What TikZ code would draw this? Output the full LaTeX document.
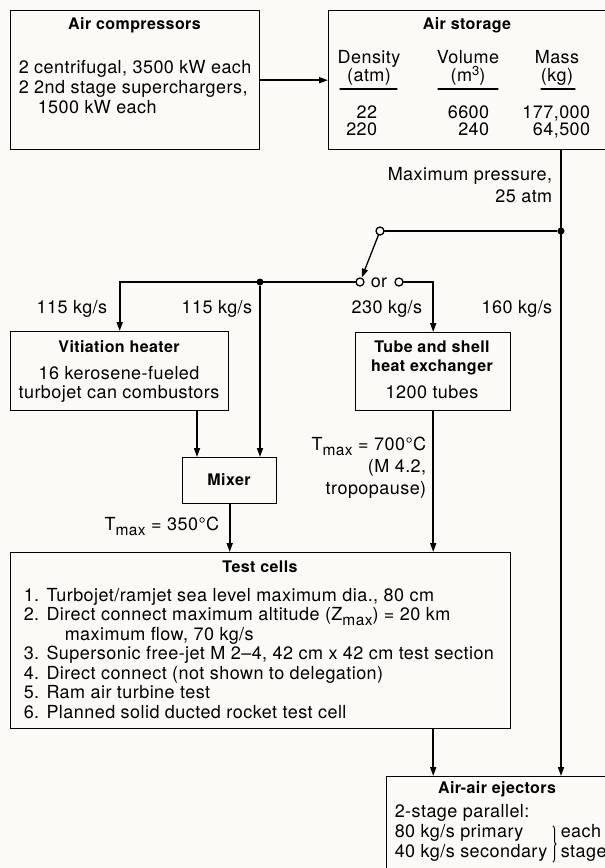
\documentclass[tikz,border=0pt]{standalone}
\usepackage{fontspec}
\setmainfont{TeX Gyre Heros}[LetterSpace=2.5]
\usetikzlibrary{arrows.meta,decorations.pathreplacing}
\definecolor{paper}{RGB}{251,250,246}

\newcommand{\tmax}{T\raisebox{-0.3em}{\fontsize{15.5}{15}\selectfont max}}
\newcommand{\zmax}{Z\raisebox{-0.3em}{\fontsize{15.5}{15}\selectfont max}}

\begin{document}
\begin{tikzpicture}[x=1pt,y=-1pt,>={Triangle[length=9pt,width=6pt]},line width=1.6pt,line cap=round,
  font=\fontsize{18}{20}\selectfont,
  box/.style={draw,rectangle,anchor=north west,inner sep=0pt,line width=1.4pt},
  ttl/.style={anchor=base,inner sep=0pt,font=\fontsize{16}{20}\selectfont\bfseries},
  txt/.style={anchor=base west,inner sep=0pt},
  rtxt/.style={anchor=base east,inner sep=0pt},
  ctxt/.style={anchor=base,inner sep=0pt},
  valve/.style={circle,draw,fill=paper,inner sep=0pt,minimum size=8pt,line width=1.3pt},
  joint/.style={circle,fill,inner sep=0pt,minimum size=7pt}]
\useasboundingbox (0,0) rectangle (605,868);
\clip (0,0) rectangle (605,868);
\fill[paper] (0,0) rectangle (605,868);

% boxes
\node[box,minimum width=249,minimum height=139] (comp) at (10,10) {};
\node[box,minimum width=280,minimum height=139] (stor) at (328,10) {};
\node[box,minimum width=218,minimum height=79] (vh) at (10,331) {};
\node[box,minimum width=155,minimum height=78] (hx) at (355,332) {};
\node[box,minimum width=94,minimum height=46] (mix) at (182,457) {};
\node[box,minimum width=500,minimum height=176] (tc) at (10,552) {};
\node[box,minimum width=222,minimum height=110] (ej) at (386,776) {};

% air compressors
\node[ttl] (compT) at (134.5,29) {Air compressors};
\node[txt] (comp1) at (18,73) {2 centrifugal, 3500 kW each};
\node[txt] (comp2) at (18,93) {2 2nd stage superchargers,};
\node[txt] (comp3) at (37,113) {1500 kW each};

% air storage
\node[ttl] (storT) at (467,29) {Air storage};
\node[ctxt] (dens) at (369,63) {Density};
\node[ctxt] (densU) at (369,81) {(atm)};
\node[ctxt] (vol) at (468,63) {Volume};
\node[ctxt] (volU) at (468,81) {(m\raisebox{0.3em}{\fontsize{13}{13}\selectfont 3})};
\node[ctxt] (mass) at (557,63) {Mass};
\node[ctxt] (massU) at (557,81) {(kg)};
\draw[line width=1.2pt] (340,89) -- (397,89);
\draw[line width=1.2pt] (438,89) -- (498,89);
\draw[line width=1.2pt] (541,89) -- (575,89);
\node[rtxt] (dens1) at (378,118) {22};
\node[rtxt] (dens2) at (378,135) {220};
\node[rtxt] (vol1) at (490,118) {6600};
\node[rtxt] (vol2) at (490,135) {240};
\node[rtxt] (mass1) at (591,118) {177,000};
\node[rtxt] (mass2) at (591,135) {64,500};

\node[rtxt] (pmax1) at (553,180) {Maximum pressure,};
\node[rtxt] (pmax2) at (553,202) {25 atm};

% switch and junctions
\node[joint] (j1) at (561,231) {};
\node[valve] (sw) at (380,231) {};
\node[valve] (swa) at (360,282) {};
\node[valve] (swb) at (399,282) {};
\node[ctxt] (or) at (379,287) {or};
\node[joint] (j2) at (260,282) {};
\coordinate (vhout) at (197,0);

\draw[->] (comp.east) -- (stor.west);
\draw[->] (stor.south -| j1) -- (ej.north -| j1);
\draw (j1) -- (sw);
\draw[->,line width=1.3pt] (sw) -- (swa);
\draw[->] (swa) -| (vh.north);
\draw[->] (j2) -- (j2 |- mix.north);
\draw[->] (swb) -| (hx.north);
\draw[->] (vh.south -| vhout) -- (mix.north -| vhout);
\draw[->] (mix.south) -- (mix.south |- tc.north);
\draw[->] (hx.south) -- (hx.south |- tc.north);
\draw[->] (tc.south -| hx.south) -- (ej.north -| hx.south);

% flows
\node[rtxt] (flow1) at (108,313) {115 kg/s};
\node[rtxt] (flow2) at (253,313) {115 kg/s};
\node[rtxt] (flow3) at (423,313) {230 kg/s};
\node[rtxt] (flow4) at (553,313) {160 kg/s};

% vitiation heater, mixer
\node[ttl] (vhT) at (119,352) {Vitiation heater};
\node[ctxt] (vh1) at (119,379) {16 kerosene-fueled};
\node[ctxt] (vh2) at (119,398) {turbojet can combustors};
\node[ttl] (mixT) at (229,485) {Mixer};
\node[rtxt] (t350) at (220,530) {\tmax{} = 350°C};

% heat exchanger
\node[ttl] (hxT1) at (432,352) {Tube and shell};
\node[ttl] (hxT2) at (432,371) {heat exchanger};
\node[ctxt] (hx1) at (432,398) {1200 tubes};
\node[rtxt] (t700) at (427,450) {\tmax{} = 700°C};
\node[rtxt] (m42) at (427,472) {(M 4.2,};
\node[rtxt] (trop) at (427,494) {tropopause)};

% test cells
\node[ttl] (tcT) at (260,572) {Test cells};
\foreach \t [count=\i] in {{1. Turbojet/ramjet sea level maximum dia., 80 cm},
  {2. Direct connect maximum altitude (\zmax) = 20 km},
  {\hspace*{41pt}maximum flow, 70 kg/s},
  {3. Supersonic free-jet M 2--4, 42 cm x 42 cm test section},
  {4. Direct connect (not shown to delegation)},
  {5. Ram air turbine test},
  {6. Planned solid ducted rocket test cell}}
  \node[txt] (tc\i) at (23,{601+19.5*(\i-1)}) {\t};

% ejectors
\node[ttl] (ejT) at (497,793) {Air-air ejectors};
\node[txt] (ej1) at (394,817) {2-stage parallel:};
\node[txt] (ej2) at (394,837) {80 kg/s primary};
\node[txt] (ej3) at (394,857) {40 kg/s secondary};
\draw[decorate,decoration={brace,amplitude=3pt},line width=1pt] (553,826) -- (553,862);
\node[txt] (each) at (560,837) {each};
\node[txt] (stage) at (560,857) {stage};
\end{tikzpicture}
\end{document}
